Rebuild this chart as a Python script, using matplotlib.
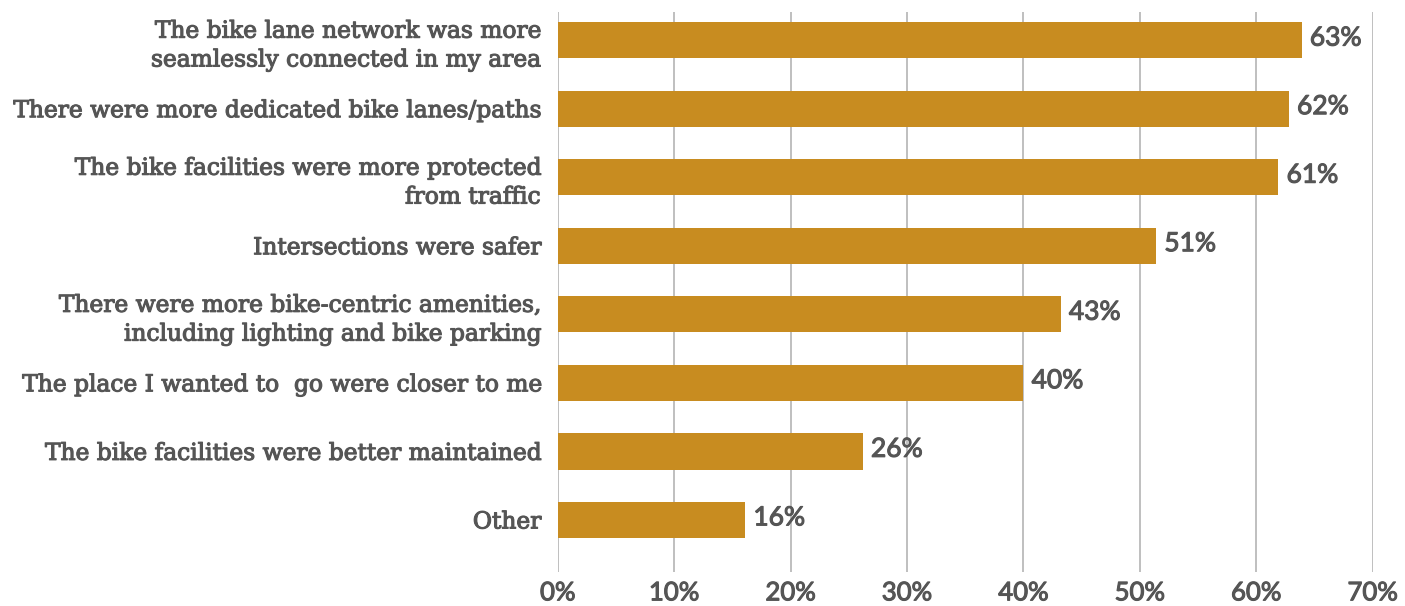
import matplotlib
matplotlib.use('Agg')
import matplotlib.pyplot as plt
import matplotlib.patheffects as pe
from matplotlib.ticker import MultipleLocator, FuncFormatter

# data (top to bottom)
categories = [
    'The bike lane network was more\nseamlessly connected in my area',
    'There were more dedicated bike lanes/paths',
    'The bike facilities were more protected\nfrom traffic',
    'Intersections were safer',
    'There were more bike-centric amenities,\nincluding lighting and bike parking',
    'The place I wanted to  go were closer to me',
    'The bike facilities were better maintained',
    'Other',
]
values = [63.9, 62.8, 61.9, 51.4, 43.2, 40.0, 26.2, 16.1]
value_labels = ['63%', '62%', '61%', '51%', '43%', '40%', '26%', '16%']

bar_color = '#C88C20'
text_color = '#555555'
grid_color = '#BFBFBF'

# slightly heavier strokes to get closer to the original typeface
thick = [pe.withStroke(linewidth=0.8, foreground=text_color)]

fig = plt.figure(figsize=(14.05, 6.06), dpi=100)
ax = fig.add_axes([0.397, 0.0561, 0.580, 0.924])

ypos = list(range(len(categories)))[::-1]
ax.barh(ypos, values, height=0.53, color=bar_color, zorder=3)

for y, v, lab in zip(ypos, values, value_labels):
    ax.text(v + 0.7, y + 0.03, lab, va='center', ha='left', fontsize=19,
            family='Lato', color=text_color, zorder=4, path_effects=thick)

ax.set_xlim(0, 70)
ax.set_ylim(-0.76, len(categories) - 0.59)
ax.xaxis.set_major_locator(MultipleLocator(10))
ax.xaxis.set_major_formatter(FuncFormatter(lambda x, p: '%d%%' % x))
ax.xaxis.grid(True, which='major', color=grid_color, lw=1.4, zorder=0)

ax.set_yticks(ypos)
ax.set_yticklabels(categories, family='DejaVu Serif', fontsize=16.8,
                   color=text_color, linespacing=1.4)
for label in ax.yaxis.get_ticklabels():
    label.set_path_effects(thick)

for label in ax.xaxis.get_ticklabels():
    label.set_fontsize(18.5)
    label.set_family('Lato')
    label.set_color(text_color)
    label.set_path_effects(thick)

ax.tick_params(axis='both', length=0)
ax.tick_params(axis='x', pad=6)
ax.tick_params(axis='y', pad=12)
for s in ax.spines.values():
    s.set_visible(False)

plt.savefig('out.png', dpi=100)
